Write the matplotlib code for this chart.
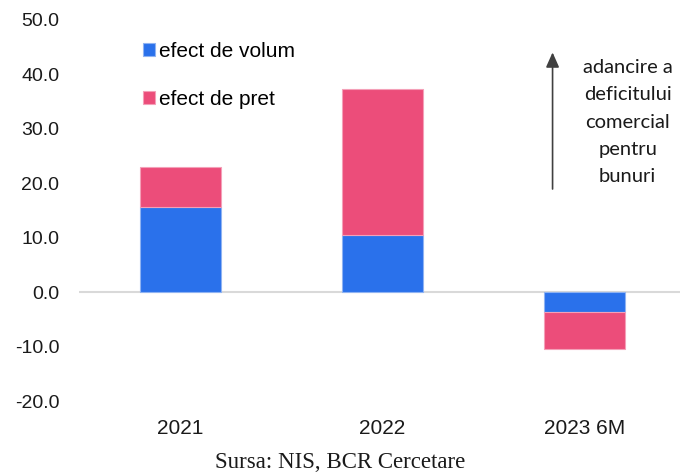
import matplotlib.pyplot as plt

years = ['2021', '2022', '2023 6M']
efect_volum = [15.7, 10.5, -3.7]
efect_pret = [7.3, 26.8, -6.7]

blue = '#2a71eb'
pink = '#ec4d7a'

plt.rcParams['font.family'] = ['Liberation Sans', 'DejaVu Sans']

fig = plt.figure(figsize=(6.8, 4.74), dpi=100)
ax = fig.add_axes([0.116, 0.154, 0.884, 0.804])

x = range(len(years))
ax.bar(x, efect_volum, width=0.4, color=blue, edgecolor='#8fb3f2', linewidth=0.8,
       label='efect de volum', zorder=2)
ax.bar(x, efect_pret, width=0.4, bottom=efect_volum, color=pink, edgecolor='#f4a0b8',
       linewidth=0.8, label='efect de pret', zorder=2)

ax.axhline(0, color='#d9d9d9', linewidth=1.5, zorder=1)

ax.set_ylim(-20, 50)
ax.set_xlim(-0.5, 2.47)
ax.set_yticks(range(-20, 51, 10))
ax.set_yticklabels([f'{v:.1f}' for v in range(-20, 51, 10)])
ax.set_xticks(list(x))
ax.set_xticklabels(years)
ax.tick_params(axis='both', length=0, labelcolor='#1a1a1a')
ax.tick_params(axis='y', pad=14, labelsize=14)
ax.tick_params(axis='x', pad=13, labelsize=15)
for s in ax.spines.values():
    s.set_visible(False)

ax.legend(loc='upper left', bbox_to_anchor=(0.1065, 0.943), frameon=False, fontsize=15,
          handlelength=0.58, handleheight=0.58, handletextpad=0.2, labelspacing=1.4,
          borderpad=0, borderaxespad=0)

# arrow and note on the right
ax.annotate('', xy=(0.788, 0.922), xytext=(0.788, 0.549), xycoords='axes fraction',
            arrowprops=dict(arrowstyle='-|>,head_length=0.9,head_width=0.4',
                            color='#404040', lw=1.2))
ax.text(0.913, 0.732, 'adancire a\ndeficitului\ncomercial\npentru\nbunuri',
        transform=ax.transAxes, ha='center', va='center', fontsize=14.5,
        family=['Lato', 'DejaVu Sans'], linespacing=1.72, color='#1a1a1a')

fig.text(0.5, 0.025, 'Sursa: NIS, BCR Cercetare', ha='center', va='center',
         fontsize=16.5, family=['Liberation Serif', 'DejaVu Serif'], color='#1a1a1a')

fig.savefig('out.png', dpi=100)
